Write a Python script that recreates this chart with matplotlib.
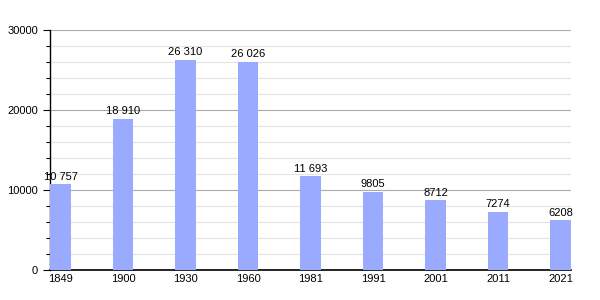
import matplotlib.pyplot as plt
from matplotlib.ticker import MultipleLocator

plt.rcParams['font.family'] = ['Liberation Sans', 'DejaVu Sans']

years = ["1849", "1900", "1930", "1960", "1981", "1991", "2001", "2011", "2021"]
population = [10757, 18910, 26310, 26026, 11693, 9805, 8712, 7274, 6208]
value_labels = ["10 757", "18 910", "26 310", "26 026", "11 693", "9805", "8712", "7274", "6208"]

fig = plt.figure(figsize=(6, 3), dpi=100)
ax = fig.add_axes([50 / 600, 30 / 300, 521 / 600, 240 / 300])

x = list(range(len(years)))
width = 0.33
ax.bar(x, population, width=width, color="#99aaff", zorder=3)

# valeurs au-dessus des barres
for xi, v, lab in zip(x, population, value_labels):
    ax.text(xi, v + 300, lab, ha="center", va="bottom", fontsize=8, clip_on=False)

ax.set_xlim(-0.168, len(years) - 1 + 0.168)
ax.set_ylim(0, 30000)
ax.set_xticks(x)
ax.set_xticklabels(years, fontsize=8)
ax.yaxis.set_major_locator(MultipleLocator(10000))
ax.yaxis.set_minor_locator(MultipleLocator(2000))
ax.tick_params(axis="y", which="major", labelsize=8, length=5, width=0.8)
ax.tick_params(axis="y", which="minor", length=3, width=0.8)
ax.tick_params(axis="x", length=0, pad=3)

ax.grid(axis="y", which="major", color="#aaaaaa", linewidth=0.8, zorder=0)
ax.grid(axis="y", which="minor", color="#e4e4e4", linewidth=0.8, zorder=0)

for s in ["top", "right"]:
    ax.spines[s].set_visible(False)
ax.spines["left"].set_linewidth(1)
ax.spines["bottom"].set_linewidth(1.2)

fig.savefig("out.png", dpi=100)
